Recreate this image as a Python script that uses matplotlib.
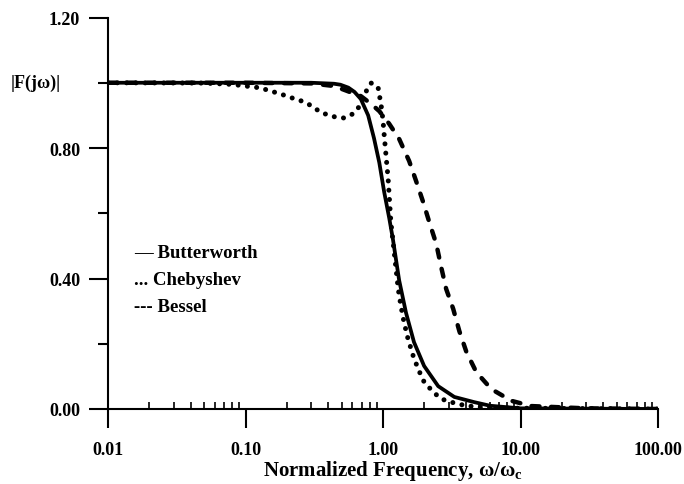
import numpy as np
import matplotlib
matplotlib.use("Agg")
import matplotlib.pyplot as plt
from matplotlib.ticker import FixedLocator, FormatStrFormatter, NullFormatter

plt.rcParams['font.family'] = ['Liberation Serif', 'DejaVu Serif']
plt.rcParams['font.weight'] = 'bold'
plt.rcParams['mathtext.fontset'] = 'custom'
plt.rcParams['mathtext.rm'] = 'Liberation Serif:bold'
plt.rcParams['mathtext.it'] = 'Liberation Serif:bold'

# values
bw_x = [0.01, 0.1, 0.3, 0.44, 0.49, 0.56, 0.62, 0.69, 0.78, 0.86, 0.94, 1.02,
        1.11, 1.18, 1.31, 1.47, 1.68, 1.99, 2.52, 3.30, 4.61, 6.0, 10.0, 100.0]
bw_y = [1.0, 1.0, 1.0, 0.997, 0.994, 0.985, 0.972, 0.950, 0.900, 0.830, 0.755, 0.665,
        0.585, 0.521, 0.395, 0.295, 0.205, 0.132, 0.070, 0.037, 0.021, 0.010, 0.002, 0.0]

ch_x = [0.01, 0.05, 0.08, 0.13, 0.15, 0.17, 0.20, 0.23, 0.27, 0.31, 0.35, 0.40,
        0.45, 0.52, 0.60, 0.67, 0.75, 0.82, 0.92, 0.97, 1.0, 1.02, 1.05, 1.09,
        1.14, 1.29, 1.35, 1.42, 1.52, 1.66, 1.80, 1.99, 2.32, 2.65, 3.13, 4.0,
        6.0, 100.0]
ch_y = [1.0, 0.999, 0.995, 0.984, 0.975, 0.969, 0.959, 0.950, 0.941, 0.926, 0.910, 0.901,
        0.895, 0.892, 0.904, 0.926, 0.972, 0.999, 0.987, 0.930, 0.885, 0.840, 0.780, 0.705,
        0.575, 0.368, 0.316, 0.267, 0.215, 0.162, 0.123, 0.083, 0.052, 0.031, 0.021, 0.010,
        0.003, 0.0]

bs_x = [0.01, 0.1, 0.3, 0.44, 0.69, 0.82, 0.94, 1.11, 1.31, 1.55, 1.74, 1.96,
        2.17, 2.44, 2.65, 2.88, 3.24, 3.59, 4.04, 4.77, 6.14, 8.6, 12.0, 17.7,
        30.0, 100.0]
bs_y = [1.0, 1.0, 0.998, 0.99, 0.959, 0.935, 0.913, 0.874, 0.828, 0.760, 0.699, 0.634,
        0.573, 0.506, 0.435, 0.368, 0.307, 0.239, 0.175, 0.113, 0.061, 0.025, 0.009, 0.006,
        0.002, 0.0]

x_major = [0.01, 0.1, 1.0, 10.0, 100.0]
y_major = [0.0, 0.4, 0.8, 1.2]
y_minor = [0.2, 0.6, 1.0]
legend_text = ["\u2014 Butterworth", "... Chebyshev", "--- Bessel"]

fig = plt.figure(figsize=(6.84, 4.85), dpi=100)
ax = fig.add_axes([108 / 684, 75 / 485, 550 / 684, 391.5 / 485])

ax.plot(bw_x, bw_y, color='black', lw=2.7, solid_capstyle='round')
ax.plot(ch_x, ch_y, color='black', lw=3.6, linestyle=(0, (0.01, 1.85)),
        dash_capstyle='round')
ax.plot(bs_x, bs_y, color='black', lw=3.2, linestyle=(0, (1.8, 2.6)),
        dash_capstyle='round')

ax.set_xscale('log')
ax.set_xlim(0.01, 100)
ax.set_ylim(0, 1.2)

ax.xaxis.set_major_locator(FixedLocator(x_major))
ax.xaxis.set_major_formatter(FormatStrFormatter('%.2f'))
minors = [m * d for d in x_major[:-1] for m in range(2, 10)]
ax.xaxis.set_minor_locator(FixedLocator(minors))
ax.xaxis.set_minor_formatter(NullFormatter())
ax.yaxis.set_major_locator(FixedLocator(y_major))
ax.yaxis.set_major_formatter(FormatStrFormatter('%.2f'))
ax.yaxis.set_minor_locator(FixedLocator(y_minor))

ax.tick_params(axis='x', which='major', direction='out', length=14, width=1.5,
               pad=9, labelsize=13)
ax.tick_params(axis='x', which='minor', direction='in', length=5, width=1.2)
ax.tick_params(axis='y', which='major', direction='out', length=14, width=1.5,
               pad=6, labelsize=13)
ax.tick_params(axis='y', which='minor', direction='out', length=7, width=1.5)

for s in ['top', 'right']:
    ax.spines[s].set_visible(False)
for s in ['left', 'bottom']:
    ax.spines[s].set_linewidth(1.5)

ax.set_xlabel('Normalized Frequency, \u03c9/\u03c9$_\\mathrm{c}$', fontsize=15,
              fontweight='bold')
ax.xaxis.set_label_coords(0.518, -0.125)
ax.set_ylabel('|F(j\u03c9)|', fontsize=13, fontweight='bold', rotation=0,
              ha='center', va='center')
ax.yaxis.set_label_coords(-0.131, 1.0 / 1.2)

for i, t in enumerate(legend_text):
    ax.text(0.048, 0.401 - i * 0.07, t, transform=ax.transAxes, fontsize=13.5,
            fontweight='bold', ha='left', va='center')

fig.savefig('out.png', dpi=100)
